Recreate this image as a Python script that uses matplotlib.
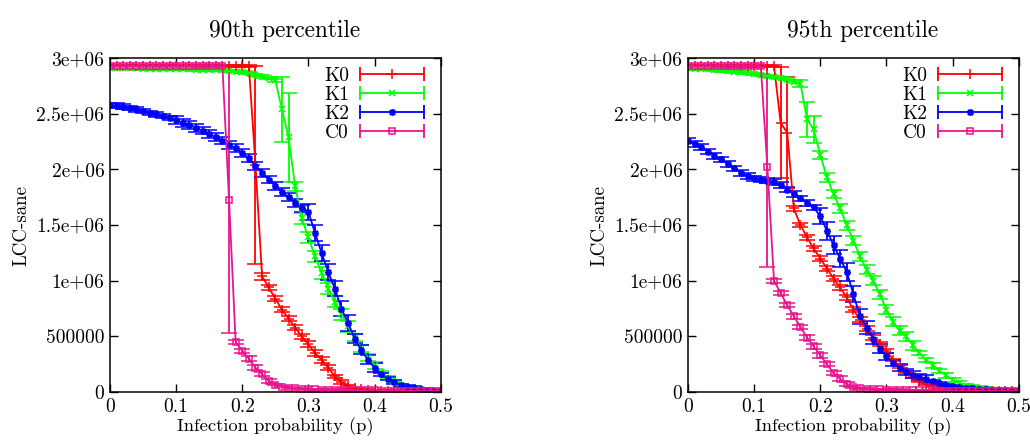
import numpy as np
import matplotlib
matplotlib.use("Agg")
import matplotlib.pyplot as plt
from matplotlib.lines import Line2D
from matplotlib.legend_handler import HandlerBase

plt.rcParams['font.family'] = ['cmr10', 'DejaVu Serif']
plt.rcParams['axes.unicode_minus'] = False

# infection probability grid (0 .. 0.5 step 0.01)
p = np.round(np.arange(0, 51) * 0.01, 2)

names = ["K0", "K1", "K2", "C0"]
titles = ["90th percentile", "95th percentile"]
xtick_vals = [0, 0.1, 0.2, 0.3, 0.4, 0.5]
xtick_labels = ["0", "0.1", "0.2", "0.3", "0.4", "0.5"]
ytick_vals = [0, 0.5e6, 1e6, 1.5e6, 2e6, 2.5e6, 3e6]
ytick_labels = ["0", "500000", "1e+06", "1.5e+06", "2e+06", "2.5e+06", "3e+06"]

# ---- 90th percentile (values in millions) ----
k0_90 = [2.93] * 22 + [2.04, 1.04, 0.94, 0.84, 0.74, 0.66, 0.58, 0.50, 0.43, 0.35,
                       0.29, 0.22, 0.14, 0.09, 0.05, 0.035, 0.025, 0.018, 0.013, 0.01,
                       0.008, 0.007, 0.006, 0.005, 0.005, 0.004, 0.004, 0.003, 0.003]
k0_90_err = [0.005] * 22 + [0.89, 0.03] + [0.025] * 10 + [0.015] * 3 + [0.005] * 14

k1_90 = [2.91, 2.91, 2.91, 2.91, 2.91, 2.905, 2.905, 2.905, 2.90, 2.90,
         2.90, 2.90, 2.90, 2.895, 2.895, 2.89, 2.89, 2.89, 2.885, 2.88,
         2.875, 2.87, 2.85, 2.835, 2.82, 2.80, 2.54, 2.29, 1.85, 1.56,
         1.39, 1.22, 1.07, 0.93, 0.81, 0.70, 0.59, 0.49, 0.39, 0.31,
         0.24, 0.18, 0.13, 0.09, 0.06, 0.04, 0.03, 0.02, 0.015, 0.011, 0.008]
k1_90_err = [0.008] * 22 + [0.01] * 4 + [0.29, 0.40, 0.04] + [0.05] * 8 + [0.03] * 4 + [0.01] * 10

k2_90 = [2.58, 2.575, 2.565, 2.555, 2.54, 2.525, 2.51, 2.495, 2.48, 2.465,
         2.445, 2.42, 2.40, 2.375, 2.35, 2.32, 2.29, 2.26, 2.22, 2.19,
         2.15, 2.10, 2.03, 1.97, 1.91, 1.85, 1.80, 1.75, 1.70, 1.65,
         1.62, 1.43, 1.25, 1.08, 0.93, 0.75, 0.62, 0.48, 0.38, 0.29,
         0.22, 0.16, 0.12, 0.09, 0.06, 0.045, 0.035, 0.025, 0.018, 0.013, 0.01]
k2_90_err = [0.02] * 10 + [0.035] * 20 + [0.07] * 7 + [0.04] * 4 + [0.015] * 10

c0_90 = [2.93] * 18 + [1.73, 0.45, 0.37, 0.30, 0.22, 0.16, 0.10, 0.065, 0.048, 0.038,
                       0.032, 0.028, 0.025, 0.023, 0.021, 0.02, 0.019, 0.018, 0.017, 0.016,
                       0.015, 0.014, 0.014, 0.013, 0.013, 0.012, 0.012, 0.011, 0.011, 0.01,
                       0.01, 0.01, 0.01]
c0_90_err = [0.005] * 18 + [1.2] + [0.02] * 6 + [0.005] * 26

# ---- 95th percentile ----
k0_95 = [2.93] * 14 + [2.42, 2.33, 1.65, 1.50, 1.39, 1.29, 1.20, 1.11, 1.02, 0.94,
                       0.85, 0.74, 0.65, 0.57, 0.49, 0.43, 0.37, 0.29, 0.23, 0.18,
                       0.14, 0.10, 0.07, 0.055, 0.04, 0.03, 0.022, 0.017, 0.013, 0.01,
                       0.008, 0.007, 0.006, 0.006, 0.005, 0.005, 0.005]
k0_95_err = [0.005] * 14 + [0.5, 0.5] + [0.02] * 15 + [0.01] * 20

k1_95 = [2.91, 2.905, 2.90, 2.90, 2.895, 2.89, 2.885, 2.88, 2.875, 2.87,
         2.86, 2.85, 2.84, 2.83, 2.82, 2.81, 2.79, 2.77, 2.45, 2.36,
         2.13, 1.93, 1.78, 1.65, 1.50, 1.36, 1.22, 1.10, 1.00, 0.88,
         0.74, 0.63, 0.55, 0.50, 0.42, 0.35, 0.29, 0.24, 0.19, 0.15,
         0.11, 0.08, 0.055, 0.04, 0.03, 0.025, 0.02, 0.016, 0.013, 0.011, 0.01]
k1_95_err = [0.01] * 17 + [0.03, 0.16, 0.12] + [0.04] * 15 + [0.02] * 16

k2_95 = [2.26, 2.23, 2.20, 2.16, 2.12, 2.09, 2.05, 2.01, 1.97, 1.94,
         1.92, 1.91, 1.90, 1.89, 1.86, 1.82, 1.78, 1.74, 1.70, 1.66,
         1.58, 1.45, 1.32, 1.20, 1.08, 0.88, 0.68, 0.58, 0.48, 0.39,
         0.32, 0.26, 0.22, 0.18, 0.155, 0.135, 0.12, 0.10, 0.08, 0.065,
         0.055, 0.045, 0.04, 0.035, 0.03, 0.025, 0.02, 0.017, 0.014, 0.012, 0.01]
k2_95_err = [0.025] * 20 + [0.07, 0.08, 0.08, 0.08, 0.08, 0.07, 0.07, 0.06, 0.05, 0.04] + [0.03] * 7 + [0.01] * 14

c0_95 = [2.93] * 12 + [2.02, 1.00, 0.89, 0.78, 0.68, 0.585, 0.49, 0.41, 0.33, 0.25,
                       0.17, 0.12, 0.07, 0.045, 0.035, 0.03, 0.026, 0.023, 0.02, 0.019,
                       0.018, 0.017, 0.016, 0.015, 0.014, 0.014, 0.013, 0.013, 0.012, 0.012,
                       0.011, 0.011, 0.011, 0.01, 0.01, 0.01, 0.01, 0.01, 0.01]
c0_95_err = [0.005] * 12 + [0.9] + [0.02] * 12 + [0.005] * 26

colors = ["#ff0000", "#00ff00", "#0000ff", "#e8158e"]
markers = ["+", "x", (8, 2, 0), "s"]
sizes = [7, 5, 5, 4.5]

panels = [
    [(k0_90, k0_90_err), (k1_90, k1_90_err), (k2_90, k2_90_err), (c0_90, c0_90_err)],
    [(k0_95, k0_95_err), (k1_95, k1_95_err), (k2_95, k2_95_err), (c0_95, c0_95_err)],
]


class CapHandler(HandlerBase):
    # gnuplot-like legend sample: line with end caps and marker in the middle
    def create_artists(self, legend, orig, xd, yd, w, h, fs, trans):
        y = h / 2 - yd
        x0, x1 = -xd, w - xd
        c = orig.get_color()
        body = Line2D([x0, x1], [y, y], color=c, lw=1.3)
        caps = Line2D([x0, x1], [y, y], ls="none", marker="|", ms=10, mew=1.3, color=c)
        mid = Line2D([(x0 + x1) / 2], [y], ls="none", marker=orig.get_marker(),
                     ms=orig.get_markersize(), mew=1.1, mfc="none", color=c)
        for a in (body, caps, mid):
            a.set_transform(trans)
        return [body, caps, mid]


fig = plt.figure(figsize=(10.3, 4.41), dpi=100)
lefts = [0.1068, 0.668]
for i, series in enumerate(panels):
    ax = fig.add_axes([lefts[i], 0.111, 0.321, 0.757])
    handles = []
    for j, (vals, errs) in enumerate(series):
        ax.errorbar(p, np.array(vals) * 1e6, yerr=np.array(errs) * 1e6,
                    color=colors[j], marker=markers[j], ms=sizes[j], mfc="none",
                    mew=1.1, lw=1.3, elinewidth=1.3, capsize=5.5, capthick=1.3)
        handles.append(Line2D([], [], color=colors[j], marker=markers[j], ms=sizes[j]))
    ax.set_xlim(0, 0.5)
    ax.set_ylim(0, 3e6)
    ax.set_xticks(xtick_vals)
    ax.set_xticklabels(xtick_labels)
    ax.set_yticks(ytick_vals)
    ax.set_yticklabels(ytick_labels)
    ax.tick_params(direction="in", top=True, right=True, length=6, width=1,
                   labelsize=14, pad=4)
    for s in ax.spines.values():
        s.set_linewidth(1.1)
    ax.set_xlabel("Infection probability (p)", fontsize=13.4, labelpad=1)
    ax.set_ylabel("LCC-sane", fontsize=13.6, labelpad=4)
    ax.set_title(titles[i], fontsize=16.8, pad=15, x=0.527)
    ax.legend(handles, names, handler_map={Line2D: CapHandler()}, loc="upper right",
              bbox_to_anchor=(0.973, 0.997), frameon=False, markerfirst=False,
              handlelength=3.3, handletextpad=0.55, labelspacing=0.05,
              borderaxespad=0.0, fontsize=14)

fig.savefig("out.png", dpi=100)
